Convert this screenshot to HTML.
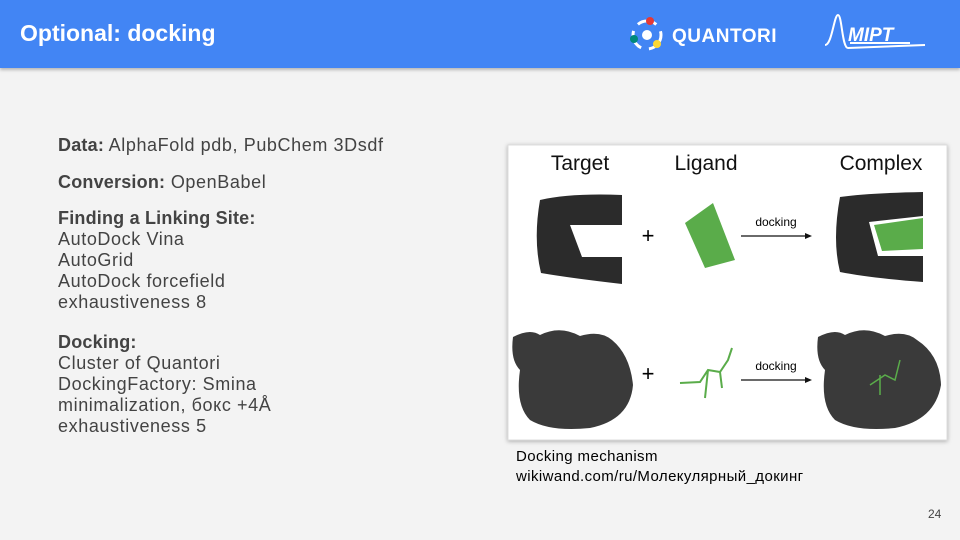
<!DOCTYPE html>
<html><head><meta charset="utf-8"><style>
body{margin:0;width:960px;height:540px;overflow:hidden;background:#f3f3f3;font-family:"Liberation Sans",sans-serif;position:relative}
.hd{position:absolute;left:0;top:0;width:960px;height:68px;background:#4285f4;box-shadow:0 2px 3px rgba(0,0,0,.25)}
.t{position:absolute;color:#434343;font-size:18px;line-height:21px;left:58px;white-space:nowrap;letter-spacing:0.6px}
b{font-weight:bold;letter-spacing:0.2px}
</style></head><body>
<div class="hd">
<div style="position:absolute;left:20px;top:20px;color:#fff;font-weight:bold;font-size:23px">Optional: docking</div>
<svg style="position:absolute;left:620px;top:10px" width="320" height="50">
<circle cx="27" cy="25" r="14" fill="none" stroke="#fff" stroke-width="3" stroke-dasharray="20 8"/>
<circle cx="27" cy="25" r="5" fill="#fff"/>
<circle cx="30" cy="11" r="4" fill="#e53935"/>
<circle cx="14" cy="29" r="4" fill="#00897b"/>
<circle cx="37" cy="34" r="4" fill="#fdd835"/>
<text x="52" y="32" fill="#fff" font-family="Liberation Sans" font-weight="bold" font-size="19" letter-spacing="0.5">QUANTORI</text>
<path d="M205 35 C212 35 214 5 218 5 C222 5 222 38 228 38 L305 35" stroke="#fff" stroke-width="2" fill="none"/>
<text x="228" y="31" fill="#fff" font-family="Liberation Sans" font-weight="bold" font-style="italic" font-size="19">MIPT</text>
<path d="M230 33 H290" stroke="#fff" stroke-width="2"/>
</svg>
</div>
<div class="t" style="top:135px"><b>Data:</b> AlphaFold pdb, PubChem 3Dsdf</div>
<div class="t" style="top:172px"><b>Conversion:</b> OpenBabel</div>
<div class="t" style="top:208px"><b>Finding a Linking Site:</b><br>AutoDock Vina<br>AutoGrid<br>AutoDock forcefield<br>exhaustiveness 8</div>
<div class="t" style="top:332px"><b>Docking:</b><br>Cluster of Quantori<br>DockingFactory: Smina<br>minimalization, бокс +4Å<br>exhaustiveness 5</div>
<svg style="position:absolute;left:0;top:0" width="960" height="540">
<rect x="508" y="145" width="439" height="295" fill="#fff" stroke="#ddd" style="filter:drop-shadow(0 1px 2px rgba(0,0,0,.3))"/>
<g font-family="Liberation Sans" fill="#111" font-size="21" text-anchor="middle">
<text x="580" y="170">Target</text><text x="706" y="170">Ligand</text><text x="881" y="170">Complex</text>
</g>
<path d="M540 200 Q570 193 622 195 V225 H570 L582 257 H622 V284 Q570 278 541 273 Q533 240 540 200Z" fill="#2b2b2b"/>
<polygon points="685,223 713,203 735,260 705,268" fill="#5aac4a"/>
<text x="648" y="243" font-size="22" text-anchor="middle" font-family="Liberation Sans">+</text>
<line x1="741" y1="236" x2="808" y2="236" stroke="#111" stroke-width="1.2"/><polygon points="812,236 805,233 805,239" fill="#111"/>
<text x="776" y="226" font-size="12" text-anchor="middle" font-family="Liberation Sans">docking</text>
<path d="M840 197 Q870 193 923 192 V216 L869 222 L878 256 H923 V282 Q870 278 840 272 Q832 240 840 197Z" fill="#2b2b2b"/>
<polygon points="874,225 923,218 923,249 882,251" fill="#5aac4a"/>
<path d="M513 337 Q530 328 540 335 Q560 325 580 336 Q600 330 612 340 Q630 355 633 385 Q630 420 590 428 Q550 432 530 420 Q515 405 520 370 Q510 360 513 337Z" fill="#3a3a3a"/>
<text x="648" y="381" font-size="22" text-anchor="middle" font-family="Liberation Sans">+</text>
<path d="M680 383 L700 382 L708 370 L720 372 L728 360 L732 348 M708 370 L705 398 M720 372 L722 388" stroke="#5aac4a" stroke-width="2" fill="none"/>
<line x1="741" y1="380" x2="808" y2="380" stroke="#111" stroke-width="1.2"/><polygon points="812,380 805,377 805,383" fill="#111"/>
<text x="776" y="370" font-size="12" text-anchor="middle" font-family="Liberation Sans">docking</text>
<path d="M818 337 Q835 328 845 335 Q865 325 885 336 Q905 330 917 340 Q940 355 941 385 Q935 420 895 428 Q855 432 835 420 Q820 405 825 370 Q815 360 818 337Z" fill="#3a3a3a"/>
<path d="M870 385 L885 375 L895 380 L900 360 M880 375 L880 395" stroke="#5aac4a" stroke-width="1.5" fill="none"/>
</svg>
<div style="position:absolute;left:516px;top:447px;font-size:15px;line-height:20px;letter-spacing:0.4px;color:#000;font-family:'Liberation Sans','DejaVu Sans',sans-serif">Docking mechanism<br>wikiwand.com/ru/Молекулярный_докинг</div>
<div style="position:absolute;left:928px;top:507px;font-size:12px;color:#444">24</div>
</body></html>
